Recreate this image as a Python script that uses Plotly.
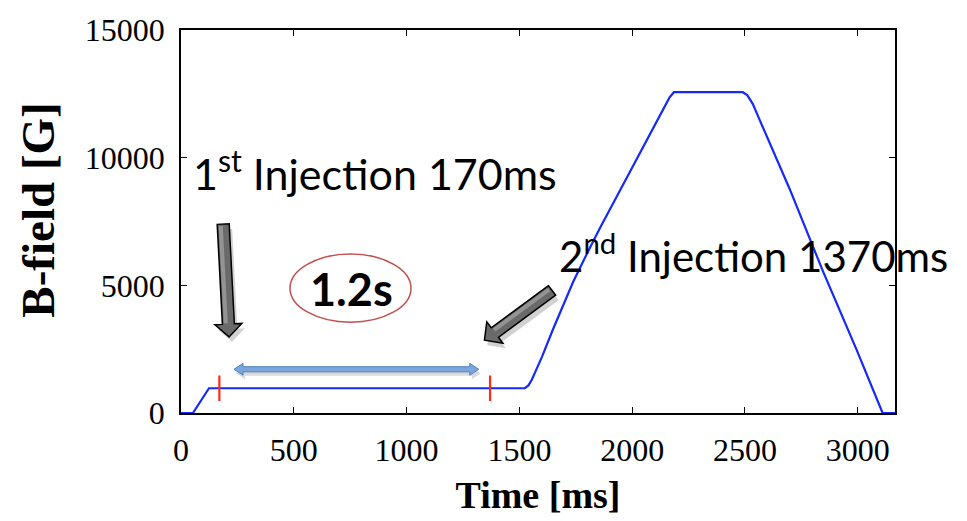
import plotly.graph_objects as go

# Magnet cycle: time [ms] vs dipole field [G]
time_ms = [0, 53, 124, 1524, 1540, 1555, 1575, 1600, 1650, 1700, 1738, 1797,
           1856, 1989, 2109, 2165, 2185, 2490, 2510, 2535, 2565, 2698, 2845,
           2995, 3110, 3165]
field_g = [0, 0, 970, 970, 1080, 1300, 1700, 2200, 3300, 4350, 5130, 6197,
           7228, 9432, 11403, 12350, 12563, 12563, 12450, 12100, 11480, 8775,
           5566, 2474, 0, 0]

# Injection instants and the field level they sit on
injection_ms = [170, 1370]
injection_level = 970
marker_half = 500

x_ticks = [0, 500, 1000, 1500, 2000, 2500, 3000]
x_tick_text = ["0", "500", "1000", "1500", "2000", "2500", "3000"]
y_ticks = [0, 5000, 10000, 15000]
y_tick_text = ["0", "5000", "10000", "15000"]
x_range = [0, 3165]
y_range = [0, 15000]

W, H = 967, 521
ML, MR, MT, MB = 181, 72, 29, 104
PW, PH = W - ML - MR, H - MT - MB


def to_px(t, b):
    """Data coordinates -> pixel coordinates inside the figure."""
    px = ML + (t - x_range[0]) / (x_range[1] - x_range[0]) * PW
    py = MT + PH - (b - y_range[0]) / (y_range[1] - y_range[0]) * PH
    return px, py


def to_paper(px, py):
    return (px - ML) / PW, (MT + PH - py) / PH


def path_from_px(points):
    parts = []
    for i, (px, py) in enumerate(points):
        x, y = to_paper(px, py)
        parts.append(("M" if i == 0 else "L") + f"{x:.5f},{y:.5f}")
    return " ".join(parts) + " Z"


def frame(p0, p1):
    (x0, y0), (x1, y1) = p0, p1
    dx, dy = x1 - x0, y1 - y0
    L = (dx * dx + dy * dy) ** 0.5
    ux, uy = dx / L, dy / L
    nx, ny = -uy, ux

    def pt(s, o):
        return (x0 + ux * s + nx * o, y0 + uy * s + ny * o)

    return L, pt


def arrow_polygon(p0, p1, shaft, head_w, head_l, double=False):
    """Block arrow outline in pixels from p0 (tail) to p1 (tip)."""
    L, pt = frame(p0, p1)
    if double:
        return [pt(0, 0), pt(head_l, head_w), pt(head_l, shaft),
                pt(L - head_l, shaft), pt(L - head_l, head_w), pt(L, 0),
                pt(L - head_l, -head_w), pt(L - head_l, -shaft),
                pt(head_l, -shaft), pt(head_l, -head_w)]
    return [pt(0, shaft), pt(L - head_l, shaft), pt(L - head_l, head_w),
            pt(L, 0), pt(L - head_l, -head_w), pt(L - head_l, -shaft),
            pt(0, -shaft)]


def shift(points, dx, dy):
    return [(x + dx, y + dy) for x, y in points]


fig = go.Figure()

fig.add_trace(go.Scatter(
    x=time_ms, y=field_g, mode="lines",
    line=dict(color="#1428ff", width=2.2),
    hoverinfo="skip", showlegend=False,
))

for t in injection_ms:
    fig.add_trace(go.Scatter(
        x=[t, t], y=[injection_level - marker_half, injection_level + marker_half],
        mode="lines", line=dict(color="#ff2a14", width=2.2),
        hoverinfo="skip", showlegend=False,
    ))

shapes = []

# grey pointer arrows (tail, tip in data units)
grey_arrows = [((187, 7400), (213, 2980)), ((1645, 4800), (1345, 2850))]
for tail, tip in grey_arrows:
    p0, p1 = to_px(*tail), to_px(*tip)
    poly = arrow_polygon(p0, p1, 6, 13.5, 13)
    shapes.append(dict(type="path", xref="paper", yref="paper",
                       path=path_from_px(shift(poly, 3, 5)),
                       fillcolor="rgba(0,0,0,0.18)", line=dict(width=0)))
    shapes.append(dict(type="path", xref="paper", yref="paper",
                       path=path_from_px(poly), fillcolor="#6a6a6a",
                       line=dict(color="black", width=1.5)))
    # lighter band on one side of the shaft
    L, pt = frame(p0, p1)
    strip = [pt(2, 4.5), pt(L - 14, 4.5), pt(L - 14, 0.5), pt(2, 0.5)]
    shapes.append(dict(type="path", xref="paper", yref="paper",
                       path=path_from_px(strip), fillcolor="rgba(255,255,255,0.28)",
                       line=dict(width=0)))

# blue double arrow spanning the two injections
span = arrow_polygon(to_px(235, 1712), to_px(1320, 1712), 2.6, 6, 9, double=True)
shapes.append(dict(type="path", xref="paper", yref="paper",
                   path=path_from_px(shift(span, 2, 4)),
                   fillcolor="rgba(0,0,0,0.15)", line=dict(width=0)))
shapes.append(dict(type="path", xref="paper", yref="paper",
                   path=path_from_px(span), fillcolor="#7aa6dc",
                   line=dict(color="#4f81bd", width=1)))

# ellipse around the interval label
ex0, ey0 = to_paper(290, 325)
ex1, ey1 = to_paper(411, 256)
shapes.append(dict(type="circle", xref="paper", yref="paper",
                   x0=ex0, y0=ey0, x1=ex1, y1=ey1,
                   line=dict(color="#c0504d", width=1.5)))

label_font = dict(family="Lato, Open Sans, sans-serif", size=43, color="black")
ax, ay = to_paper(191, 171)
bx, by = to_paper(557, 255)
cx, cy = to_paper(351, 291)
tx, ty = to_paper(38, 212)
annotations = [
    dict(xref="paper", yref="paper", x=ax, y=ay, xanchor="left", yanchor="middle",
         text="1<sup>st</sup> Injection 170ms", showarrow=False, font=label_font),
    dict(xref="paper", yref="paper", x=bx, y=by, xanchor="left", yanchor="middle",
         text="2<sup>nd</sup> Injection 1370ms", showarrow=False,
         font=dict(label_font, size=42)),
    dict(xref="paper", yref="paper", x=cx, y=cy, xanchor="center", yanchor="middle",
         text="<b>1.2s</b>", showarrow=False,
         font=dict(family="Lato, Open Sans, sans-serif", size=45, color="black")),
    # vertical axis title
    dict(xref="paper", yref="paper", x=tx, y=ty, xanchor="center", yanchor="middle",
         text="B-field [G]", textangle=-90, showarrow=False,
         font=dict(family="Liberation Serif, serif", size=47, color="black",
                   weight="bold")),
]

tick_font = dict(family="Liberation Serif, serif", size=32, color="black")
axis_common = dict(showgrid=False, zeroline=False, showline=True, linecolor="black",
                   linewidth=1.5, mirror="ticks", ticks="inside", ticklen=6,
                   tickwidth=1, tickcolor="black", tickfont=tick_font)

fig.update_layout(
    width=W, height=H,
    margin=dict(l=ML, r=MR, t=MT, b=MB, pad=0),
    plot_bgcolor="white", paper_bgcolor="white",
    shapes=shapes, annotations=annotations,
    xaxis=dict(range=x_range, tickvals=x_ticks, ticktext=x_tick_text,
               ticklabelstandoff=8,
               title=dict(text="Time [ms]", standoff=14,
                          font=dict(family="Liberation Serif, serif", size=38,
                                    color="black", weight="bold")),
               **axis_common),
    yaxis=dict(range=y_range, tickvals=y_ticks, ticktext=y_tick_text,
               ticklabelstandoff=8, **axis_common),
)

fig.write_html("out.html")
